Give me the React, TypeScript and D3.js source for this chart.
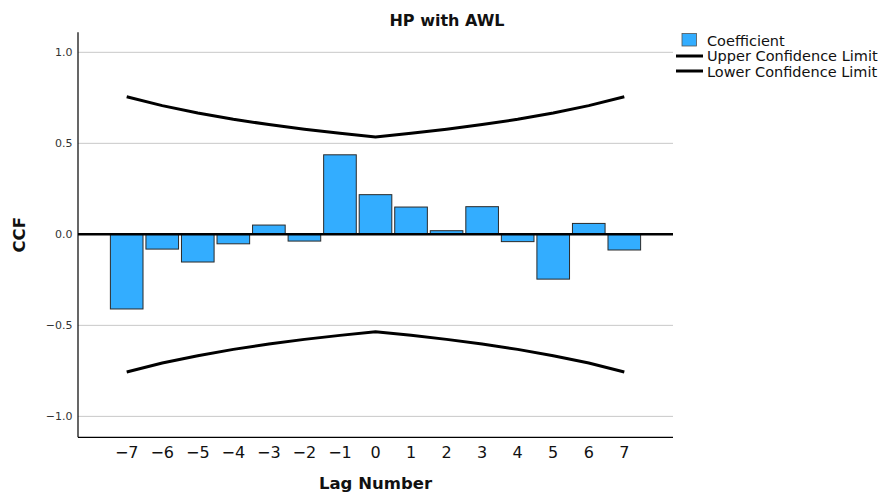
import React from "react";
import * as d3 from "d3";

const lags = [-7, -6, -5, -4, -3, -2, -1, 0, 1, 2, 3, 4, 5, 6, 7];
const coefficient = [-0.41, -0.081, -0.152, -0.052, 0.051, -0.037, 0.437, 0.218, 0.15, 0.02, 0.152, -0.04, -0.246, 0.06, -0.086];
const upperLimit = [0.756, 0.707, 0.667, 0.632, 0.603, 0.577, 0.555, 0.535, 0.555, 0.577, 0.603, 0.632, 0.667, 0.707, 0.756];
const lowerLimit = [-0.756, -0.707, -0.667, -0.632, -0.603, -0.577, -0.555, -0.535, -0.555, -0.577, -0.603, -0.632, -0.667, -0.707, -0.756];
const yTicks = [-1.0, -0.5, 0.0, 0.5, 1.0];
const title = "HP with AWL";
const xLabel = "Lag Number";
const yLabel = "CCF";
const legendItems = ["Coefficient", "Upper Confidence Limit", "Lower Confidence Limit"];

const W = 882, H = 494;
const L = 78, R = 673, T = 32.3, B = 437.3;
const FONT = "'DejaVu Sans', Verdana, sans-serif";
const BAR = "#33adff";

export default function App() {
  const x = d3.scaleLinear().domain([-8.37, 8.37]).range([L, R]);
  const y = d3.scaleLinear().domain([-1.115, 1.11]).range([B, T]);
  const step = x(1) - x(0);
  const bw = step * 0.918;
  const fmt = (v: number) => (v < 0 ? "\u2212" : "") + Math.abs(v).toFixed(1);
  const line = d3.line<number>().x((_, i) => x(lags[i])).y((v) => y(v));

  return (
    <svg width={W} height={H} style={{ position: "absolute", left: 0, top: 0, background: "#fff" }} fontFamily={FONT}>
      <text x={447} y={26} textAnchor="middle" fontSize={16} fontWeight="bold" fill="#111">{title}</text>
      {yTicks.filter((t) => t !== 0).map((t) => (
        <line key={"g" + t} x1={L} x2={R} y1={y(t)} y2={y(t)} stroke="#c8c8c8" strokeWidth={1} />
      ))}
      {yTicks.map((t) => (
        <text key={"yt" + t} x={72.5} y={y(t) + 4} textAnchor="end" fontSize={11} fill="#333">{fmt(t)}</text>
      ))}
      {coefficient.map((v, i) => (
        <rect key={"b" + i} x={x(lags[i]) - bw / 2} y={Math.min(y(v), y(0))} width={bw} height={Math.abs(y(v) - y(0))}
          fill={BAR} stroke="#2a2a2a" strokeWidth={1} />
      ))}
      <line x1={L} x2={R} y1={y(0)} y2={y(0)} stroke="#000" strokeWidth={2.5} />
      <path d={line(upperLimit) || ""} fill="none" stroke="#000" strokeWidth={3} />
      <path d={line(lowerLimit) || ""} fill="none" stroke="#000" strokeWidth={3} />
      <line x1={L} x2={L} y1={T} y2={B} stroke="#000" strokeWidth={1.2} />
      <line x1={L} x2={R} y1={B} y2={B} stroke="#000" strokeWidth={1.2} />
      {lags.map((l) => (
        <text key={"xt" + l} x={x(l)} y={458} textAnchor="middle" fontSize={16} fill="#111">{(l < 0 ? "\u2212" : "") + Math.abs(l)}</text>
      ))}
      <text x={(L + R) / 2} y={489} textAnchor="middle" fontSize={16.5} fontWeight="bold" fill="#111">{xLabel}</text>
      <text transform={`translate(25,${(T + B) / 2}) rotate(-90)`} textAnchor="middle" fontSize={16.5} fontWeight="bold" fill="#111">{yLabel}</text>
      <rect x={682} y={33.5} width={14.5} height={12.5} fill={BAR} stroke="#555" strokeWidth={0.8} />
      <line x1={676} x2={703} y1={56} y2={56} stroke="#000" strokeWidth={3} />
      <line x1={676} x2={703} y1={71} y2={71} stroke="#000" strokeWidth={3} />
      {legendItems.map((s, i) => (
        <text key={s} x={707} y={46 + i * 15.4} fontSize={14.5} fill="#111">{s}</text>
      ))}
    </svg>
  );
}
